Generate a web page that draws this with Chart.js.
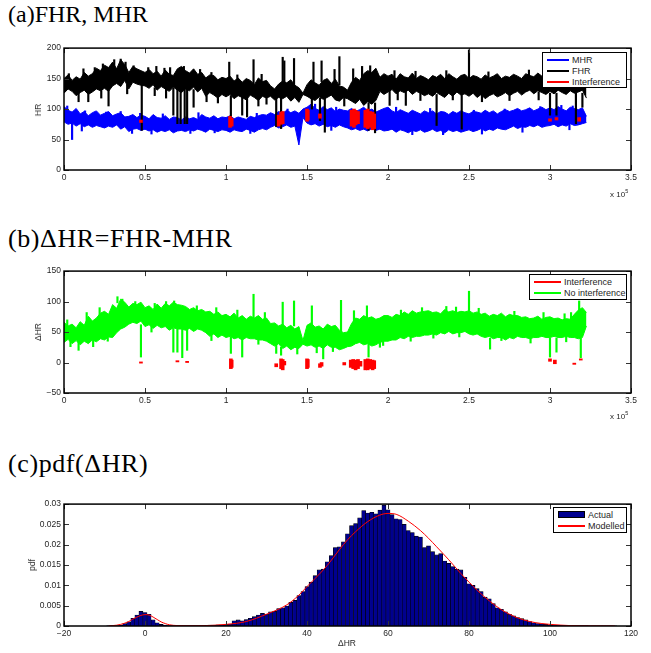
<!DOCTYPE html>
<html>
<head>
<meta charset="utf-8">
<script src="https://cdn.jsdelivr.net/npm/chart.js@4.4.1/dist/chart.umd.min.js"></script>
<style>
  body { margin: 0; background: #fff; width: 651px; height: 653px; position: relative; overflow: hidden; font-family: "Liberation Sans", Arial, sans-serif; color: #262626; }
  canvas { position: absolute; left: 0; }
  .ptitle { position: absolute; left: 8px; font-family: "Liberation Serif", "Times New Roman", serif; font-size: 24px; line-height: 1; color: #000; white-space: nowrap; }
  .ptitle.wide { font-size: 26px; letter-spacing: 0.6px; }
  .ylab { position: absolute; font-size: 8.5px; white-space: nowrap; transform: translate(-50%, -50%) rotate(-90deg); }
  .xlab { position: absolute; font-size: 8.5px; white-space: nowrap; transform: translate(-50%, -50%); }
  .expo { position: absolute; font-size: 8px; white-space: nowrap; transform: translateY(-50%); }
  .expo sup { font-size: 5.5px; vertical-align: 4px; }
  .legend { position: absolute; box-sizing: border-box; border: 1px solid #000; background: #fff; font-size: 9px; padding-top: 1px; }
  .legend div { height: 11px; display: flex; align-items: center; white-space: nowrap; }
  .legend .ln { display: inline-block; height: 2px; margin: 0 3px 0 4px; }
  .legend .patch { display: inline-block; height: 7px; background: #00008f; border: 1px solid #000; margin: 0 3px 0 4px; box-sizing: border-box; }
</style>
</head>
<body>

<div class="ptitle" style="top:2px">(a)FHR, MHR</div>
<canvas id="chart-a" width="651" height="150" style="top:40px"></canvas>
<div class="ylab" style="left:38px; top:110px">HR</div>
<div class="expo" style="left:610px; top:193px">x 10<sup>5</sup></div>
<div class="legend" style="left:542px; top:52px; width:85px; height:36px">
  <div><span class="ln" style="width:22px; background:#0000ff"></span>MHR</div>
  <div><span class="ln" style="width:22px; background:#000000"></span>FHR</div>
  <div><span class="ln" style="width:22px; background:#ff0000"></span>Interference</div>
</div>

<div class="ptitle wide" style="top:226px">(b)ΔHR=FHR-MHR</div>
<canvas id="chart-b" width="651" height="150" style="top:263px"></canvas>
<div class="ylab" style="left:38px; top:332px">ΔHR</div>
<div class="expo" style="left:610px; top:415px">x 10<sup>5</sup></div>
<div class="legend" style="left:529px; top:274px; width:98px; height:26px">
  <div><span class="ln" style="width:27px; background:#ff0000"></span>Interference</div>
  <div><span class="ln" style="width:27px; background:#00ff00"></span>No interference</div>
</div>

<div class="ptitle wide" style="top:451px">(c)pdf(ΔHR)</div>
<canvas id="chart-c" width="651" height="150" style="top:496px"></canvas>
<div class="ylab" style="left:32px; top:565px">pdf</div>
<div class="xlab" style="left:347px; top:643px">ΔHR</div>
<div class="legend" style="left:553px; top:507px; width:74px; height:26px">
  <div><span class="patch" style="width:27px"></span>Actual</div>
  <div><span class="ln" style="width:27px; background:#ff0000"></span>Modelled</div>
</div>

<script>
// sample index in units of 1e5, one envelope value every 2500 samples
const T_STEP = 0.025;

// (a) upper / lower envelopes of the traces
const fhrHi = [
  150,156,147,153,149,160,154,158,167,163,
  172,168,177,166,181,173,160,170,166,163,
  160,165,158,162,154,164,157,155,166,170,
  163,159,166,157,160,151,156,155,148,152,
  150,154,146,151,144,150,147,140,151,145,
  147,138,133,141,146,143,148,139,135,126,
  140,148,143,139,147,150,142,149,138,136,
  131,144,152,147,158,163,160,167,152,158,
  154,157,149,158,153,151,159,150,155,152,
  148,155,152,157,150,158,153,149,155,157,
  150,155,153,149,156,151,154,158,150,154,
  152,157,154,150,158,155,153,159,154,157,
  155,152,158,154,157,159,153,161,156,150
];
const fhrLo = [
  126,133,129,122,127,131,124,128,133,130,
  134,129,138,142,137,147,133,144,141,139,
  138,134,140,131,137,133,129,136,131,127,
  133,130,136,128,134,121,127,123,118,124,
  120,124,117,122,119,115,123,119,114,121,
  118,121,115,119,117,121,113,119,111,124,
  121,117,114,120,116,119,123,115,113,119,
  117,113,109,116,106,112,108,114,129,124,
  128,132,125,130,127,131,124,129,126,122,
  125,121,127,123,119,126,121,128,123,125,
  121,126,119,124,117,122,125,120,123,127,
  122,126,129,123,128,131,125,130,127,124,
  129,125,131,127,124,130,126,128,131,118
];
// short excursions of the FHR trace: position, from, to
const fhrSpT  = [0.09,0.275,0.35,0.48,0.675,0.7,0.72,0.745,0.76,0.8,0.88,1.02,1.03,1.1,1.13,1.17,1.31,1.34,1.35,1.36,1.42,1.54,1.58,1.59,1.61,1.67,1.7,1.88,1.89,1.92,2.01,2.11,2.3,2.455,2.5,3.0,3.04,3.16,3.18,3.2,
  0.03,0.12,0.19,0.24,0.31,0.38,0.43,0.52,0.57,0.62,0.655,0.74,0.84,0.91,1.07,1.22,1.785,1.84,2.04,2.17,2.36,2.62,2.87,3.09,
  0.15,0.23,0.39,0.56,0.63,0.95,1.2,1.25,1.53,1.73,2.06,2.2,2.4,2.58,2.75,2.93];
const fhrSpLo = [112,105,170,65,90,76,76,76,76,103,112,145,72,90,87,140,71,68,140,140,138,145,81,145,62,140,140,65,150,61,106,106,73,67,150,90,90,76,150,103,
  140,140,145,150,155,155,150,145,145,140,140,145,140,135,130,130,130,130,140,140,140,140,140,140,
  112,118,125,122,118,110,105,108,100,105,115,114,115,112,114,115];
const fhrSpHi = [130,135,182,145,135,135,135,135,135,132,130,177,122,120,118,181,118,118,185,179,183,177,118,179,118,165,186,110,171,110,132,130,124,126,197,126,126,126,163,126,
  158,166,168,174,181,177,171,168,170,167,168,170,165,160,156,157,166,170,163,162,163,161,164,162,
  130,135,140,135,135,125,120,120,120,120,130,128,128,125,128,128];

const mhrHi = [
  104,98,95,101,92,96,89,94,97,90,
  93,96,89,92,94,87,88,91,86,90,
  88,84,91,86,85,89,83,87,86,82,
  87,84,86,83,91,87,85,89,84,87,
  86,89,84,87,85,83,88,86,89,91,
  90,94,91,96,93,98,94,97,93,100,
  103,108,101,98,104,99,102,96,100,98,
  97,101,96,99,103,97,100,95,98,101,
  103,97,94,99,96,93,98,95,92,97,
  94,97,92,96,95,91,96,93,97,94,
  92,96,95,93,98,94,97,92,96,99,
  96,98,101,97,99,102,97,100,103,99,
  102,99,104,100,97,103,101,99,102,88
];
const mhrLo = [
  79,75,77,72,76,71,74,70,73,71,
  69,72,70,74,67,71,63,67,68,65,
  67,64,66,62,65,63,66,61,64,65,
  63,66,64,67,65,62,67,65,63,66,
  65,62,66,64,63,67,65,62,66,68,
  66,70,73,69,71,74,70,72,41,86,
  77,74,76,72,75,71,73,70,74,71,
  69,66,68,65,67,64,68,65,67,64,
  65,67,62,66,64,61,65,63,66,62,
  64,67,63,65,61,66,63,65,62,64,
  66,63,65,68,64,67,65,69,67,66,
  69,72,68,71,70,73,71,74,70,72,
  73,75,71,74,72,76,73,74,76,78
];
const mhrSpT  = [0.05,0.02,0.13,0.26,0.35,0.47,0.61,0.83,1.19,1.38,1.55,1.68,2.05,2.26,2.53,2.72,2.94,3.07,3.14,
  0.11,0.42,0.54,0.78,0.93,1.15,1.65,2.15,2.34,2.58,2.83,3.12];
const mhrSpLo = [50,80,80,80,80,80,78,78,78,82,85,85,82,80,80,82,84,84,84,
  64,60,59,60,61,60,65,58,58,59,62,66];
const mhrSpHi = [78,105,97,95,96,93,92,94,93,100,108,103,103,101,98,100,104,106,105,
  75,72,72,72,72,72,76,72,72,72,75,78];

const irT  = [0.475,1.025,1.035,1.325,1.34,1.35,1.5,1.505,1.58,1.775,1.79,1.8,1.815,1.86,1.875,1.89,1.905,1.915,3.0,3.04,3.18];
const irLo = [78,70,72,72,75,76,80,82,85,72,70,74,76,70,68,70,66,68,80,82,80];
const irHi = [82,88,85,90,95,96,100,98,92,98,100,98,96,98,100,96,95,92,84,86,86];

// (b) ΔHR envelopes
const dhrHi = [
  66,60,63,57,67,61,76,68,73,81,
  84,79,95,89,104,99,91,97,95,99,
  90,93,87,96,89,97,93,99,95,94,
  92,87,90,85,87,83,84,79,83,77,
  79,75,81,73,77,71,76,73,77,71,
  73,64,65,60,63,57,61,55,59,36,
  61,65,58,60,55,63,59,61,53,49,
  50,64,73,71,77,73,75,71,73,77,
  77,74,79,77,83,79,85,81,83,84,
  85,82,83,80,87,83,85,82,84,83,
  85,81,83,79,81,76,79,77,81,75,
  79,77,77,74,75,72,73,76,71,74,
  75,72,73,70,72,71,79,86,90,82
];
const dhrLo = [
  33,38,31,36,29,35,31,37,34,39,
  37,42,41,49,55,58,63,66,64,68,
  59,62,56,61,57,59,53,57,55,55,
  53,56,51,55,53,49,43,47,41,45,
  41,43,39,41,37,41,39,39,37,37,
  35,31,27,31,23,27,21,25,23,30,
  27,29,25,27,23,29,25,25,21,23,
  26,27,31,33,29,31,27,29,33,35,
  35,37,37,41,39,43,41,43,43,45,
  45,47,45,49,47,51,47,49,49,51,
  47,45,47,43,41,43,39,41,41,37,
  41,39,43,41,41,39,41,41,43,41,
  41,43,41,41,43,41,41,39,41,60
];
const dhrSpT  = [0.09,0.33,0.475,0.675,0.68,0.7,0.73,0.76,1.03,1.1,1.17,1.31,1.34,1.35,1.42,1.53,1.6,1.71,1.87,1.88,1.95,2.5,2.63,3.0,3.04,3.18,3.19,
  0.02,0.14,0.22,0.36,0.44,0.56,0.63,0.82,0.94,1.07,1.24,1.79,2.08,2.21,2.36,2.42,2.56,2.78,2.96,3.09,3.13,
  0.04,0.18,0.27,0.54,0.91,1.2,1.44,1.56,1.66,1.97,2.14,2.28,2.44,2.7,2.88,3.1];
const dhrSpLo = [20,98,9,17,90,17,8,20,15,9,70,15,12,60,60,60,6,50,60,9,25,80,22,9,17,85,8,
  50,60,70,85,85,80,80,70,70,65,60,60,65,70,70,70,70,65,60,60,60,
  40,40,45,60,45,40,30,30,30,40,45,50,55,50,45,45];
const dhrSpHi = [40,108,62,56,101,56,56,56,42,40,112,30,25,99,101,93,25,102,93,30,35,117,40,40,40,101,40,
  70,82,90,104,100,97,100,93,90,86,82,85,86,90,92,91,89,84,82,80,82,
  26,26,35,50,36,30,14,16,18,28,35,40,42,36,32,34];

const idT  = [0.475,0.7,0.76,1.03,1.035,1.31,1.34,1.35,1.36,1.5,1.505,1.58,1.59,1.73,1.77,1.785,1.8,1.815,1.83,1.86,1.875,1.89,1.905,1.915,3.0,3.03,3.15,3.19];
const idLo = [-1,1,0,-10,-8,-7,-10,-12,-4,-10,-8,-8,-6,-4,-8,-10,-12,-10,-6,-12,-12,-10,-12,-10,2,-2,-3,4];
const idHi = [1,3,2,6,4,-2,6,5,2,6,5,-2,0,0,4,5,4,5,2,5,6,5,4,3,6,4,-1,6];

// (c) histogram, one bin per unit of ΔHR from -9 to 116
const BIN_FIRST = -9;
const pdfActual = [
  0.00005,0.0001,0.0001,0.0002,0.0006,0.001,0.0019,0.0027,0.0036,0.0033,
  0.0029,0.0015,0.0008,0.0004,0.0002,0.0001,0.0001,0.00008,0.00008,0.00008,
  0.0001,0.0001,0.0001,0.00012,0.00015,0.0002,0.00025,0.0003,0.0003,0.0004,
  0.0005,0.0013,0.0015,0.0013,0.0016,0.0019,0.0023,0.0027,0.0031,0.0029,
  0.0035,0.0036,0.0043,0.0045,0.0049,0.0058,0.0063,0.0075,0.0085,0.0097,
  0.0108,0.0124,0.0138,0.014,0.0158,0.0173,0.0193,0.0195,0.0207,0.0227,
  0.0247,0.0252,0.0266,0.0284,0.0278,0.028,0.0276,0.0285,0.0297,0.0286,
  0.0274,0.0264,0.0262,0.025,0.0235,0.023,0.0221,0.0219,0.0193,0.0197,
  0.0183,0.0175,0.0178,0.016,0.0154,0.0146,0.014,0.0138,0.012,0.0104,
  0.01,0.0092,0.0085,0.0071,0.0067,0.0055,0.0045,0.0041,0.0035,0.0029,
  0.0025,0.0021,0.0018,0.0015,0.0011,0.0008,0.0006,0.0005,0.0004,0.0003,
  0.00025,0.0002,0.00015,0.00015,0.0001,0.0001,0.0001,0.00008,0.00008,0.00006,
  0.00005,0.00004,0.00004,0.00003,0.00003,0.00002
];
const modelX = [-9,-8,-7,-6,-5,-4,-3,-2,-1,0,1,2,3,4,5,6,8,10,15,20,25,30,35,38,40,42,45,48,50,52,55,58,60,62,65,68,70,72,75,78,80,82,85,88,90,92,95,98,100,105,110,116];
const modelY = [0,0.0001,0.0002,0.0004,0.0007,0.0011,0.0017,0.0022,0.0026,0.0028,0.0027,0.0022,0.0016,0.001,0.0006,0.0003,
  0.0001,0.00005,0.0001,0.0004,0.0011,0.0029,0.0052,0.0076,0.0097,0.0117,0.0149,0.0188,0.0212,0.0232,0.0257,0.0273,0.0277,
  0.0275,0.0258,0.0235,0.0216,0.0195,0.0163,0.0129,0.0108,0.0088,0.0062,0.004,0.0029,0.002,0.0011,0.0006,0.0004,0.0001,0.00003,0];

const FONT = { family: '"Liberation Sans", Arial, sans-serif', size: 8.5 };
const TICK_COLOR = '#262626';

const t = fhrHi.map((_, i) => i * T_STEP);
const bins = pdfActual.map((_, i) => BIN_FIRST + i);

const num = (v) => {
  const s = String(+v.toFixed(4));
  return v < 0 ? '\u2212' + s.slice(1) : s;
};

// matlab style frame with inward ticks on all four sides
const boxTicks = {
  id: 'boxTicks',
  afterDatasetsDraw(chart) {
    const { ctx, chartArea: a, scales } = chart;
    ctx.save();
    ctx.strokeStyle = '#333';
    ctx.lineWidth = 1;
    ctx.beginPath();
    scales.x.ticks.forEach(tk => {
      const px = Math.round(scales.x.getPixelForValue(tk.value)) + 0.5;
      ctx.moveTo(px, a.bottom); ctx.lineTo(px, a.bottom - 5);
      ctx.moveTo(px, a.top); ctx.lineTo(px, a.top + 5);
    });
    scales.y.ticks.forEach(tk => {
      const py = Math.round(scales.y.getPixelForValue(tk.value)) + 0.5;
      ctx.moveTo(a.left, py); ctx.lineTo(a.left + 5, py);
      ctx.moveTo(a.right, py); ctx.lineTo(a.right - 5, py);
    });
    ctx.stroke();
    ctx.strokeStyle = '#000';
    ctx.lineWidth = 1.5;
    ctx.strokeRect(a.left, a.top, a.right - a.left, a.bottom - a.top);
    ctx.restore();
  }
};

function axes(xmin, xmax, xstep, ymin, ymax, ystep) {
  return {
    x: {
      type: 'linear', min: xmin, max: xmax, offset: false,
      grid: { display: false, drawTicks: false }, border: { display: false },
      ticks: { stepSize: xstep, padding: 3, color: TICK_COLOR, font: FONT, maxRotation: 0, autoSkip: false, callback: num },
      afterFit: (s) => { s.height = 20; }
    },
    y: {
      type: 'linear', min: ymin, max: ymax,
      grid: { display: false, drawTicks: false }, border: { display: false },
      ticks: { stepSize: ystep, padding: 3, color: TICK_COLOR, font: FONT, callback: num },
      afterFit: (s) => { s.width = 64; }
    }
  };
}

function band(hi, lo, color, order) {
  return [
    { type: 'line', data: hi.map((v, i) => ({ x: t[i], y: v })), borderColor: color, backgroundColor: color,
      borderWidth: 1, pointRadius: 0, tension: 0, fill: '+1', order },
    { type: 'line', data: lo.map((v, i) => ({ x: t[i], y: v })), borderColor: color,
      borderWidth: 1, pointRadius: 0, tension: 0, fill: false, order }
  ];
}

// vertical strokes from lo to hi at each position
function strokes(xs, lo, hi, color, width, order) {
  return {
    type: 'bar', data: xs.map((x, i) => ({ x, y: [lo[i], hi[i]] })),
    backgroundColor: color, borderWidth: 0, barThickness: width, grouped: false, order
  };
}

const baseOptions = (scales) => ({
  responsive: false,
  animation: false,
  devicePixelRatio: 1,
  layout: { padding: { left: 0, right: 20, top: 7, bottom: 0 } },
  plugins: { legend: { display: false }, tooltip: { enabled: false } },
  scales
});

new Chart(document.getElementById('chart-a'), {
  type: 'line',
  data: {
    datasets: [
      strokes(irT, irLo, irHi, '#ff0000', 3, 0),
      ...band(fhrHi, fhrLo, '#000000', 1),
      strokes(fhrSpT, fhrSpLo, fhrSpHi, '#000000', 1.5, 1),
      ...band(mhrHi, mhrLo, '#0000ff', 2),
      strokes(mhrSpT, mhrSpLo, mhrSpHi, '#0000ff', 1.5, 2)
    ]
  },
  options: baseOptions(axes(0, 3.5, 0.5, 0, 200, 50)),
  plugins: [boxTicks]
});

new Chart(document.getElementById('chart-b'), {
  type: 'line',
  data: {
    datasets: [
      strokes(idT, idLo, idHi, '#ff0000', 3, 0),
      ...band(dhrHi, dhrLo, '#00ff00', 1),
      strokes(dhrSpT, dhrSpLo, dhrSpHi, '#00ff00', 1.5, 1)
    ]
  },
  options: baseOptions(axes(0, 3.5, 0.5, -50, 150, 50)),
  plugins: [boxTicks]
});

new Chart(document.getElementById('chart-c'), {
  type: 'bar',
  data: {
    datasets: [
      { type: 'line', data: modelX.map((x, i) => ({ x, y: modelY[i] })), borderColor: '#ff0000', borderWidth: 1,
        pointRadius: 0, cubicInterpolationMode: 'monotone', fill: false, order: 0 },
      { type: 'bar', data: bins.map((x, i) => ({ x, y: pdfActual[i] })), backgroundColor: '#00008f',
        borderColor: '#000000', borderWidth: 0.6, barPercentage: 1, categoryPercentage: 1, order: 1 }
    ]
  },
  options: baseOptions(axes(-20, 120, 20, 0, 0.03, 0.005)),
  plugins: [boxTicks]
});
</script>
</body>
</html>
